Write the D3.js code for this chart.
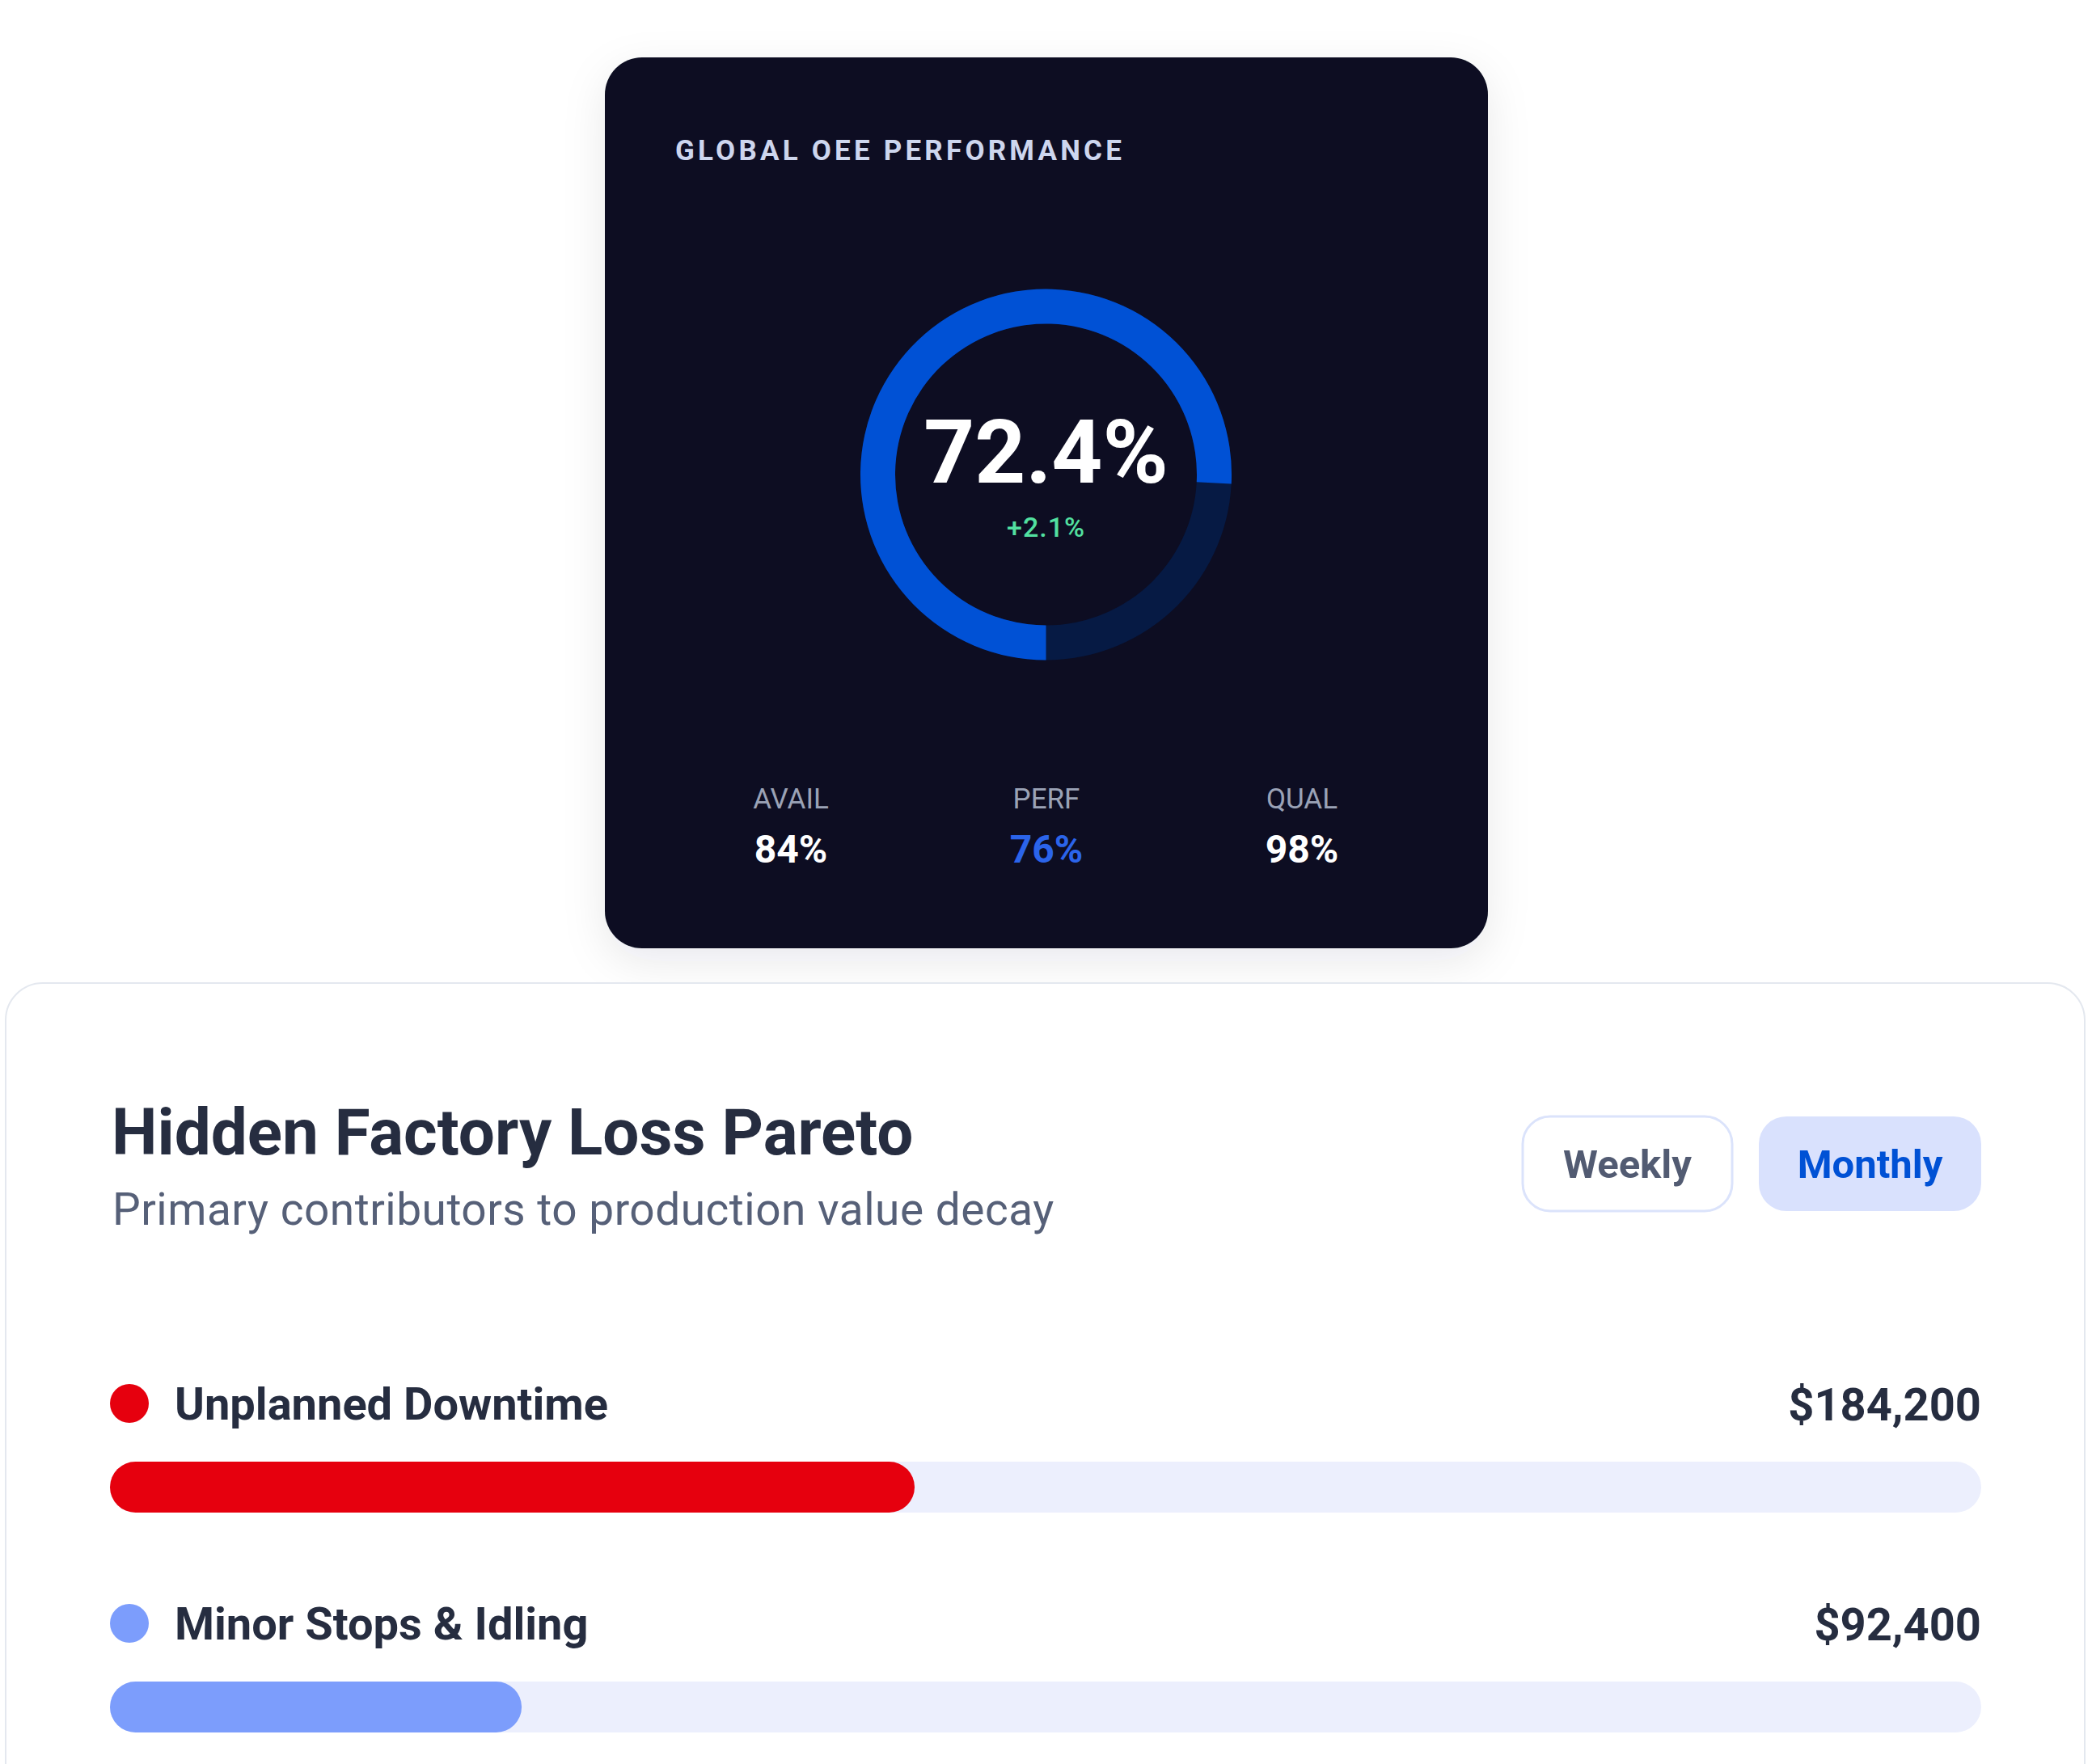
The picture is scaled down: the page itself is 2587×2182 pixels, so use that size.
<!DOCTYPE html>
<html>
<head>
<meta charset="utf-8">
<script src="https://cdn.jsdelivr.net/npm/d3@7"></script>
<style>
  html, body { margin: 0; padding: 0; background: #ffffff; }
  svg { display: block; font-family: Roboto, "Noto Sans", sans-serif; }
</style>
</head>
<body>
<div id="chart"></div>
<script>
// values
const oeeValue = 72.4;
const oeeDelta = 2.1;
const gaugeShare = 0.758; // share of the ring painted blue, as drawn
const metricLabels = ["AVAIL", "PERF", "QUAL"];
const metricValues = [84, 76, 98];
const periods = ["Weekly", "Monthly"];
const activePeriod = "Monthly";
const lossCategories = ["Unplanned Downtime", "Minor Stops & Idling"];
const lossValues = [184200, 92400];
const lossShare = [43, 22]; // bar fill, percent of track

var width = 2587,
  height = 2182;

var svg = d3
  .select("#chart")
  .append("svg")
  .attr("width", width)
  .attr("height", height);

var defs = svg.append("defs");
var shadow = defs.append("filter").attr("id", "shadow")
  .attr("x", "-20%").attr("y", "-20%").attr("width", "140%").attr("height", "140%");
shadow.append("feDropShadow")
  .attr("dx", 0).attr("dy", 16).attr("stdDeviation", 26)
  .attr("flood-color", "#0f172a").attr("flood-opacity", 0.09);

// ---------- dark OEE card ----------
var card = { x: 748, y: 71, w: 1092, h: 1102 };

svg.append("rect")
  .attr("x", card.x).attr("y", card.y)
  .attr("width", card.w).attr("height", card.h)
  .attr("rx", 46)
  .attr("fill", "#0a0f20")
  .attr("filter", "url(#shadow)");

svg.append("text")
  .attr("x", 835).attr("y", 198)
  .attr("fill", "#cdd6ee")
  .attr("font-size", 35).attr("font-weight", 700)
  .attr("letter-spacing", 4.2)
  .text("GLOBAL OEE PERFORMANCE");

var cx = 1293.5, cy = 587;
var gauge = svg.append("g").attr("transform", "translate(" + cx + "," + cy + ")");
var ring = d3.arc().innerRadius(186.5).outerRadius(229.5);
var angle = d3.scaleLinear().domain([0, 1]).range([Math.PI, 3 * Math.PI]);

gauge.append("path")
  .attr("d", ring({ startAngle: 0, endAngle: 2 * Math.PI }))
  .attr("fill", "#061a44");
gauge.append("path")
  .attr("d", ring({ startAngle: angle(0), endAngle: angle(gaugeShare) }))
  .attr("fill", "#0051d5");

gauge.append("text")
  .attr("x", 0).attr("y", 10)
  .attr("text-anchor", "middle")
  .attr("fill", "#ffffff")
  .attr("font-size", 110).attr("font-weight", 700)
  .text(oeeValue.toFixed(1) + "%");

gauge.append("text")
  .attr("x", 0).attr("y", 77)
  .attr("text-anchor", "middle")
  .attr("fill", "#52e0a0")
  .attr("font-size", 34).attr("font-weight", 500)
  .attr("letter-spacing", 1)
  .text("+" + oeeDelta.toFixed(1) + "%");

var colX = d3.scalePoint().domain(metricLabels).range([978, 1610]);

svg.selectAll(".mlabel")
  .data(metricLabels)
  .join("text")
  .attr("class", "mlabel")
  .attr("x", (d) => colX(d)).attr("y", 1000)
  .attr("text-anchor", "middle")
  .attr("fill", "#9aa2b6")
  .attr("font-size", 35)
  .text((d) => d);

svg.selectAll(".mvalue")
  .data(metricValues)
  .join("text")
  .attr("class", "mvalue")
  .attr("x", (d, i) => colX(metricLabels[i])).attr("y", 1067)
  .attr("text-anchor", "middle")
  .attr("fill", (d, i) => (metricLabels[i] === "PERF" ? "#2b64ea" : "#ffffff"))
  .attr("font-size", 48).attr("font-weight", 700)
  .text((d) => d + "%");

// ---------- Pareto card ----------
svg.append("rect")
  .attr("x", 7).attr("y", 1216)
  .attr("width", 2571).attr("height", 1100)
  .attr("rx", 46)
  .attr("fill", "#ffffff")
  .attr("stroke", "#e4e8ef").attr("stroke-width", 2);

svg.append("text")
  .attr("x", 138).attr("y", 1428)
  .attr("fill", "#262d40")
  .attr("font-size", 80).attr("font-weight", 700)
  .text("Hidden Factory Loss Pareto");

svg.append("text")
  .attr("x", 139).attr("y", 1515)
  .attr("fill", "#566078")
  .attr("font-size", 55)
  .attr("letter-spacing", 0.5)
  .text("Primary contributors to production value decay");

var buttons = [
  { x: 1883, w: 259 },
  { x: 2175, w: 275 }
];
var btn = svg.selectAll(".btn")
  .data(periods)
  .join("g")
  .attr("class", "btn");

btn.append("rect")
  .attr("x", (d, i) => buttons[i].x).attr("y", 1381)
  .attr("width", (d, i) => buttons[i].w).attr("height", 117)
  .attr("rx", 34)
  .attr("fill", (d) => (d === activePeriod ? "#d9e1fd" : "#ffffff"))
  .attr("stroke", (d) => (d === activePeriod ? "none" : "#dbe3fb"))
  .attr("stroke-width", 3);

btn.append("text")
  .attr("x", (d, i) => buttons[i].x + buttons[i].w / 2).attr("y", 1457)
  .attr("text-anchor", "middle")
  .attr("fill", (d) => (d === activePeriod ? "#0051d5" : "#525b72"))
  .attr("font-size", 49).attr("font-weight", 700)
  .text((d) => d);

var x = d3.scaleLinear().domain([0, 100]).range([0, 2314]);
var rowY = d3.scaleLinear().domain([0, 1]).range([0, 272]);
var lossColor = d3.scaleOrdinal().domain(lossCategories).range(["#e6000e", "#7c9dfc"]);
var fmt = d3.format("$,");

var row = svg.selectAll(".row")
  .data(lossCategories)
  .join("g")
  .attr("class", "row")
  .attr("transform", (d, i) => "translate(136," + (1736 + rowY(i)) + ")");

row.append("circle")
  .attr("cx", 24).attr("cy", 0).attr("r", 24)
  .attr("fill", (d) => lossColor(d));

row.append("text")
  .attr("x", 80).attr("y", 20)
  .attr("fill", "#262d40")
  .attr("font-size", 56).attr("font-weight", 700)
  .text((d) => d);

row.append("text")
  .attr("x", 2314).attr("y", 21)
  .attr("text-anchor", "end")
  .attr("fill", "#262d40")
  .attr("font-size", 56).attr("font-weight", 700)
  .text((d, i) => fmt(lossValues[i]));

row.append("rect")
  .attr("x", 0).attr("y", 72)
  .attr("width", x(100)).attr("height", 63)
  .attr("rx", 31.5)
  .attr("fill", "#eceffd");

row.append("rect")
  .attr("x", 0).attr("y", 72)
  .attr("width", (d, i) => x(lossShare[i])).attr("height", 63)
  .attr("rx", 31.5)
  .attr("fill", (d) => lossColor(d));
</script>
</body>
</html>
